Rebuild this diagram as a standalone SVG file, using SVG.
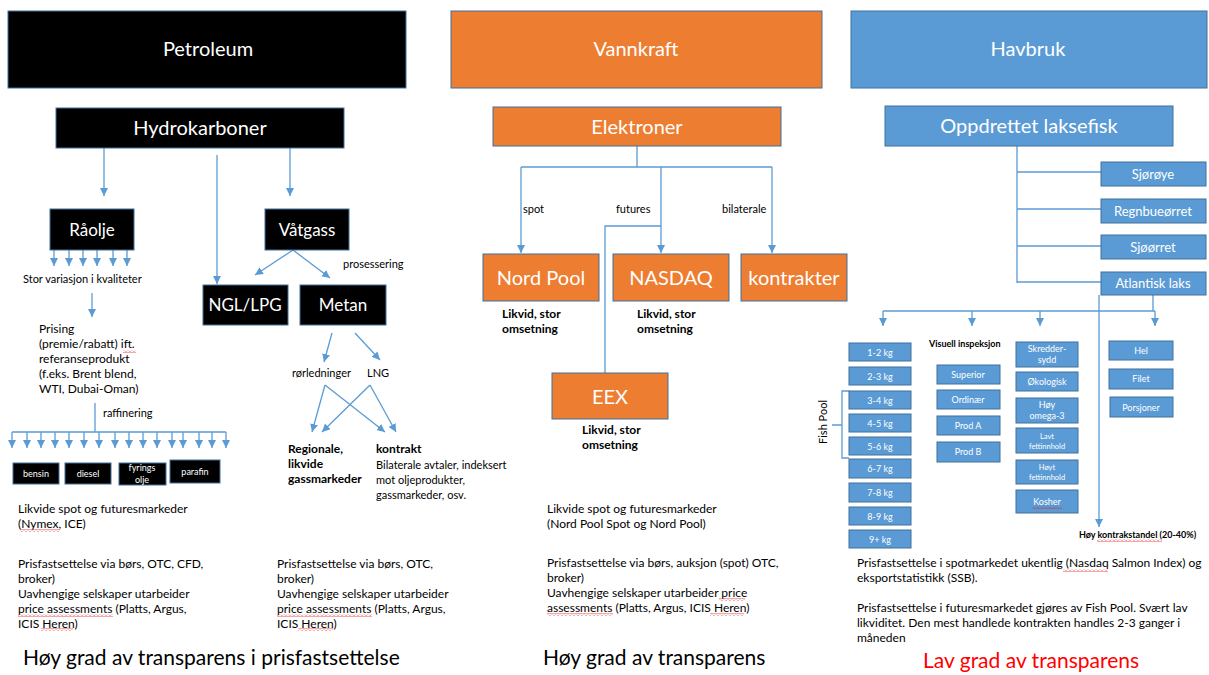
<svg xmlns="http://www.w3.org/2000/svg" width="1209" height="675" viewBox="0 0 1209 675">
<style>
text{font-family:Lato,"Liberation Sans",sans-serif;}
.blk{fill:#000;stroke:#41719C;stroke-width:1}
.org{fill:#ED7D31;stroke:#41719C;stroke-width:1}
.blu{fill:#5B9BD5;stroke:#41719C;stroke-width:1}
.w{fill:#fff;text-anchor:middle}
.h{font-size:20px}
.m{font-size:17px}
.s{font-size:13px}
.xs{font-size:9px}
.xxs{font-size:7.5px}
.t{fill:#000;font-size:12px}
.t11{fill:#000;font-size:11px}
.b{font-weight:bold}
.big{fill:#000;font-size:21px}
.c{fill:none;stroke:#5B9BD5;stroke-width:1.3}
.a{marker-end:url(#ah)}
.sq{fill:url(#sqp)}
</style>
<defs>
<marker id="ah" viewBox="0 0 10 10" refX="10" refY="5" markerWidth="8" markerHeight="8" markerUnits="userSpaceOnUse" orient="auto"><path d="M0,0 L10,5 L0,10 z" fill="#5B9BD5"/></marker>
<pattern id="sqp" width="4" height="3" patternUnits="userSpaceOnUse"><path d="M0,2.5 L2,0.5 L4,2.5" fill="none" stroke="#E02020" stroke-width="0.8"/></pattern>
</defs>

<g id="connectors">
<path class="c a" d="M104,148 V196"/>
<path class="c a" d="M217,155 V284"/>
<path class="c a" d="M290,148 V196"/>
<path class="c a" d="M54,250 V266"/>
<path class="c a" d="M69,250 V266"/>
<path class="c a" d="M83,250 V266"/>
<path class="c a" d="M97,250 V266"/>
<path class="c a" d="M113,250 V266"/>
<path class="c a" d="M127,250 V266"/>
<path class="c a" d="M293,250 L255,275"/>
<path class="c a" d="M293,250 L330,278"/>
<path class="c a" d="M92,293 V317"/>
<path class="c" d="M95,403 V432 M12,432 H226"/>
<path class="c a" d="M12,432 V448"/>
<path class="c a" d="M27,432 V448"/>
<path class="c a" d="M41,432 V448"/>
<path class="c a" d="M55,432 V448"/>
<path class="c a" d="M69,432 V448"/>
<path class="c a" d="M84,432 V448"/>
<path class="c a" d="M99,432 V448"/>
<path class="c a" d="M115,432 V448"/>
<path class="c a" d="M129,432 V448"/>
<path class="c a" d="M143,432 V448"/>
<path class="c a" d="M157,432 V448"/>
<path class="c a" d="M172,432 V448"/>
<path class="c a" d="M183,432 V448"/>
<path class="c a" d="M199,432 V448"/>
<path class="c a" d="M212,432 V448"/>
<path class="c a" d="M226,432 V448"/>
<path class="c a" d="M332,333 L324,362"/>
<path class="c a" d="M355,333 L380,360"/>
<path class="c a" d="M325,385 L312,432"/>
<path class="c a" d="M325,385 L385,432"/>
<path class="c a" d="M370,385 L322,432"/>
<path class="c a" d="M370,385 L396,432"/>

<path class="c" d="M637,146 V167 M521,167 H772"/>
<path class="c a" d="M521,167 V253"/>
<path class="c a" d="M661,167 V253"/>
<path class="c a" d="M772,167 V253"/>
<path class="c" d="M661,226 H605 V373"/>

<path class="c" d="M1017,146 V283 M1017,172 H1101 M1017,209 H1101 M1017,246 H1101 M1017,282 H1101"/>
<path class="c" d="M1153,295 V311 M883,311 H1155"/>
<path class="c a" d="M883,311 V326"/>
<path class="c a" d="M972,311 V326"/>
<path class="c a" d="M1040,311 V326"/>
<path class="c a" d="M1155,311 V326"/>
<path class="c a" d="M1099,295 V527"/>
<path class="c" d="M849,391 H842 V458 H849 M832,425 H842"/>
</g>

<g id="petroleum"><rect class="blk" x="8" y="11" width="398" height="77"/><text class="w h" x="208" y="56">Petroleum</text></g>
<g id="vannkraft"><rect class="org" x="451" y="11" width="371" height="77"/><text class="w h" x="636" y="56">Vannkraft</text></g>
<g id="havbruk"><rect class="blu" x="851" y="11" width="356" height="77"/><text class="w h" x="1028" y="56">Havbruk</text></g>

<g id="hydrokarboner"><rect class="blk" x="56" y="108" width="288" height="40"/><text class="w h" x="200" y="135">Hydrokarboner</text></g>
<g id="raolje"><rect class="blk" x="50" y="209" width="84" height="41"/><text class="w m" x="92" y="236">Råolje</text></g>
<g id="vatgass"><rect class="blk" x="265" y="209" width="84" height="41"/><text class="w m" x="307" y="236">Våtgass</text></g>
<g id="ngl"><rect class="blk" x="203" y="285" width="85" height="40"/><text class="w m" x="245" y="311">NGL/LPG</text></g>
<g id="metan"><rect class="blk" x="300" y="285" width="86" height="40"/><text class="w m" x="343" y="311">Metan</text></g>
<g id="bensin"><rect class="blk" x="13" y="463" width="46" height="21"/><text class="w xs" x="36" y="477">bensin</text></g>
<g id="diesel"><rect class="blk" x="65" y="463" width="46" height="21"/><text class="w xs" x="88" y="477">diesel</text></g>
<g id="fyringsolje"><rect class="blk" x="119" y="463" width="47" height="22"/><text class="w xs" x="142" y="471">fyrings</text><text class="w xs" x="142" y="483">olje</text></g>
<g id="parafin"><rect class="blk" x="170" y="460" width="50" height="23"/><text class="w xs" x="195" y="475">parafin</text></g>

<g id="petroleum-text">
<text class="t11" x="23" y="283">Stor variasjon i kvaliteter</text>
<text class="t11" x="343" y="268">prosessering</text>
<text class="t" x="39" y="333">Prising</text>
<text class="t" x="39" y="348">(premie/rabatt) ift.</text>
<text class="t" x="39" y="363">referanseprodukt</text>
<text class="t" x="39" y="378">(f.eks. Brent blend,</text>
<text class="t" x="39" y="393">WTI, Dubai-Oman)</text>
<text class="t11" x="103" y="417">raffinering</text>
<text class="t11" x="292" y="377">rørledninger</text>
<text class="t11" x="367" y="377">LNG</text>
<text class="t b" x="288" y="453">Regionale,</text>
<text class="t b" x="288" y="468">likvide</text>
<text class="t b" x="288" y="483">gassmarkeder</text>
<text class="t b" x="376" y="453">kontrakt</text>
<text class="t11" x="376" y="469">Bilaterale avtaler, indeksert</text>
<text class="t11" x="376" y="484">mot oljeprodukter,</text>
<text class="t11" x="376" y="499">gassmarkeder, osv.</text>
<text class="t" x="18" y="513">Likvide spot og futuresmarkeder</text>
<text class="t" x="18" y="528">(Nymex, ICE)</text>
<text class="t" x="18" y="568">Prisfastsettelse via børs, OTC, CFD,</text>
<text class="t" x="18" y="583">broker)</text>
<text class="t" x="18" y="598">Uavhengige selskaper utarbeider</text>
<text class="t" x="18" y="613">price assessments (Platts, Argus,</text>
<text class="t" x="18" y="628">ICIS Heren)</text>
<text class="t" x="277" y="568">Prisfastsettelse via børs, OTC,</text>
<text class="t" x="277" y="583">broker)</text>
<text class="t" x="277" y="598">Uavhengige selskaper utarbeider</text>
<text class="t" x="277" y="613">price assessments (Platts, Argus,</text>
<text class="t" x="277" y="628">ICIS Heren)</text>
<text class="big" x="23" y="665">Høy grad av transparens i prisfastsettelse</text>
</g>

<g id="elektroner"><rect class="org" x="493" y="107" width="288" height="39"/><text class="w h" x="637" y="134">Elektroner</text></g>
<g id="nordpool"><rect class="org" x="483" y="254" width="116" height="47"/><text class="w h" x="541" y="285">Nord Pool</text></g>
<g id="nasdaq"><rect class="org" x="613" y="254" width="116" height="47"/><text class="w h" x="671" y="285">NASDAQ</text></g>
<g id="kontrakter"><rect class="org" x="741" y="254" width="106" height="47"/><text class="w h" x="794" y="285">kontrakter</text></g>
<g id="eex"><rect class="org" x="552" y="373" width="116" height="46"/><text class="w h" x="610" y="404">EEX</text></g>

<g id="vannkraft-text">
<text class="t11" x="523" y="213">spot</text>
<text class="t11" x="616" y="213">futures</text>
<text class="t11" x="722" y="213">bilaterale</text>
<text class="t b" x="502" y="318">Likvid, stor</text>
<text class="t b" x="502" y="333">omsetning</text>
<text class="t b" x="637" y="318">Likvid, stor</text>
<text class="t b" x="637" y="333">omsetning</text>
<text class="t b" x="582" y="434">Likvid, stor</text>
<text class="t b" x="582" y="449">omsetning</text>
<text class="t" x="547" y="513">Likvide spot og futuresmarkeder</text>
<text class="t" x="547" y="528">(Nord Pool Spot og Nord Pool)</text>
<text class="t" x="547" y="567">Prisfastsettelse via børs, auksjon (spot) OTC,</text>
<text class="t" x="547" y="582">broker)</text>
<text class="t" x="547" y="597">Uavhengige selskaper utarbeider price</text>
<text class="t" x="547" y="612">assessments (Platts, Argus, ICIS Heren)</text>
<text class="big" x="543" y="665">Høy grad av transparens</text>
</g>

<g id="oppdrettet"><rect class="blu" x="885" y="106" width="288" height="40"/><text class="w h" x="1029" y="133">Oppdrettet laksefisk</text></g>
<g id="sjoroye"><rect class="blu" x="1101" y="162" width="105" height="24"/><text class="w s" x="1153" y="179">Sjørøye</text></g>
<g id="regnbue"><rect class="blu" x="1101" y="199" width="105" height="24"/><text class="w s" x="1153" y="216">Regnbueørret</text></g>
<g id="sjoorret"><rect class="blu" x="1101" y="235" width="105" height="24"/><text class="w s" x="1153" y="252">Sjøørret</text></g>
<g id="atlantisk"><rect class="blu" x="1101" y="272" width="105" height="23"/><text class="w s" x="1153" y="288">Atlantisk laks</text></g>

<g id="kg1"><rect class="blu" x="849" y="343" width="62" height="18"/><text class="w xs" x="880" y="356">1-2 kg</text></g>
<g id="kg2"><rect class="blu" x="849" y="367" width="62" height="18"/><text class="w xs" x="880" y="380">2-3 kg</text></g>
<g id="kg3"><rect class="blu" x="849" y="391" width="62" height="18"/><text class="w xs" x="880" y="404">3-4 kg</text></g>
<g id="kg4"><rect class="blu" x="849" y="414" width="62" height="18"/><text class="w xs" x="880" y="427">4-5 kg</text></g>
<g id="kg5"><rect class="blu" x="849" y="437" width="62" height="18"/><text class="w xs" x="880" y="450">5-6 kg</text></g>
<g id="kg6"><rect class="blu" x="849" y="459" width="62" height="19"/><text class="w xs" x="880" y="472">6-7 kg</text></g>
<g id="kg7"><rect class="blu" x="849" y="483" width="62" height="19"/><text class="w xs" x="880" y="496">7-8 kg</text></g>
<g id="kg8"><rect class="blu" x="849" y="507" width="62" height="18"/><text class="w xs" x="880" y="520">8-9 kg</text></g>
<g id="kg9"><rect class="blu" x="849" y="530" width="62" height="18"/><text class="w xs" x="880" y="543">9+ kg</text></g>

<g id="superior"><rect class="blu" x="937" y="365" width="63" height="19"/><text class="w xs" x="968" y="378">Superior</text></g>
<g id="ordinaer"><rect class="blu" x="937" y="390" width="63" height="19"/><text class="w xs" x="968" y="403">Ordinær</text></g>
<g id="proda"><rect class="blu" x="937" y="416" width="63" height="19"/><text class="w xs" x="968" y="429">Prod A</text></g>
<g id="prodb"><rect class="blu" x="937" y="442" width="63" height="20"/><text class="w xs" x="968" y="455">Prod B</text></g>

<g id="skredder"><rect class="blu" x="1016" y="342" width="62" height="25"/><text class="w xs" x="1047" y="352">Skredder-</text><text class="w xs" x="1047" y="363">sydd</text></g>
<g id="okologisk"><rect class="blu" x="1016" y="372" width="62" height="19"/><text class="w xs" x="1047" y="385">Økologisk</text></g>
<g id="omega"><rect class="blu" x="1016" y="398" width="62" height="25"/><text class="w xs" x="1047" y="408">Høy</text><text class="w xs" x="1047" y="419">omega-3</text></g>
<g id="lavt"><rect class="blu" x="1016" y="428" width="62" height="25"/><text class="w xxs" x="1047" y="439">Lavt</text><text class="w xxs" x="1047" y="449">fettinnhold</text></g>
<g id="hoyt"><rect class="blu" x="1016" y="460" width="62" height="24"/><text class="w xxs" x="1047" y="470">Høyt</text><text class="w xxs" x="1047" y="480">fettinnhold</text></g>
<g id="kosher"><rect class="blu" x="1016" y="490" width="62" height="23"/><text class="w xs" x="1047" y="505">Kosher</text></g>

<g id="hel"><rect class="blu" x="1109" y="341" width="64" height="19"/><text class="w xs" x="1141" y="354">Hel</text></g>
<g id="filet"><rect class="blu" x="1109" y="369" width="64" height="20"/><text class="w xs" x="1141" y="382">Filet</text></g>
<g id="porsjoner"><rect class="blu" x="1110" y="397" width="63" height="20"/><text class="w xs" x="1141" y="411">Porsjoner</text></g>

<g id="havbruk-text">
<text class="t11" x="0" y="0" transform="translate(827,422) rotate(-90)" text-anchor="middle">Fish Pool</text>
<text class="xs b" x="929" y="347" fill="#000">Visuell inspeksjon</text>
<text class="xs b" x="1079" y="538" fill="#000">Høy kontrakstandel (20-40%)</text>
<text class="t" x="857" y="567">Prisfastsettelse i spotmarkedet ukentlig (Nasdaq Salmon Index) og</text>
<text class="t" x="857" y="582">eksportstatistikk (SSB).</text>
<text class="t" x="857" y="612">Prisfastsettelse i futuresmarkedet gjøres av Fish Pool. Svært lav</text>
<text class="t" x="857" y="627">likviditet. Den mest handlede kontrakten handles 2-3 ganger i</text>
<text class="t" x="857" y="642">måneden</text>
<text x="923" y="668" style="font-size:21px;fill:#FF0000">Lav grad av transparens</text>
</g>

<g id="spellcheck">
<rect class="sq" x="123" y="350" width="13" height="3"/>
<rect class="sq" x="20" y="529" width="40" height="3"/>
<rect class="sq" x="18" y="614" width="95" height="3"/>
<rect class="sq" x="41" y="628" width="32" height="3"/>
<rect class="sq" x="277" y="614" width="95" height="3"/>
<rect class="sq" x="298" y="628" width="35" height="3"/>
<rect class="sq" x="719" y="598" width="26" height="3"/>
<rect class="sq" x="547" y="613" width="66" height="3"/>
<rect class="sq" x="710" y="613" width="34" height="3"/>
<rect class="sq" x="1033" y="506" width="29" height="3"/>
<rect class="sq" x="1097" y="539" width="65" height="3"/>
<rect class="sq" x="1063" y="569" width="45" height="3"/>
</g>
</svg>
